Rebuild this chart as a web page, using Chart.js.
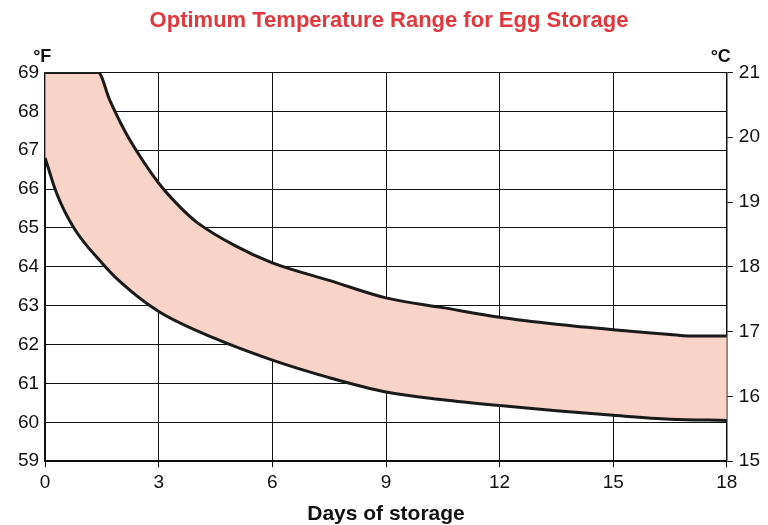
<!DOCTYPE html>
<html lang="en">
<head>
<meta charset="UTF-8">
<title>Egg Storage</title>
<script src="https://cdn.jsdelivr.net/npm/chart.js"></script>
<style>
  body, html { margin: 0; padding: 0; background: #fff; }
  #wrap { width: 768px; height: 525px; }
</style>
</head>
<body>
<div id="wrap"><canvas id="c"></canvas></div>
<script>
// days of storage vs temperature (°F)
const upperDays = [0, 1.4, 1.7, 2.1, 2.5, 3, 3.5, 4, 5, 6, 7.5, 9, 10.5, 12, 13.5, 15, 16.5, 17, 18];
const upperTemp = [69, 69, 68.3, 67.5, 66.85, 66.15, 65.6, 65.15, 64.55, 64.1, 63.65, 63.2, 62.95, 62.7, 62.52, 62.38, 62.26, 62.22, 62.22];
const lowerDays = [0, 0.3, 0.76, 1.5, 2, 3, 4.5, 6, 7.5, 9, 10.5, 12, 13.5, 15, 16.5, 18];
const lowerTemp = [66.8, 65.9, 65.0, 64.1, 63.6, 62.85, 62.15, 61.6, 61.15, 60.78, 60.58, 60.43, 60.3, 60.18, 60.08, 60.05];

const pts = (xs, ys) => xs.map((x, i) => ({ x: x, y: ys[i] }));
const family = '"Liberation Sans", Arial, sans-serif';
const font = { family: family, size: 19 };

const extraLabels = {
  id: 'extraLabels',
  afterDraw(chart) {
    const { ctx, chartArea } = chart;
    ctx.save();
    ctx.fillStyle = '#111';
    ctx.font = 'bold 18px ' + family;
    ctx.textBaseline = 'bottom';
    ctx.textAlign = 'left';
    ctx.fillText('°F', chartArea.left - 12, chartArea.top - 6);
    ctx.textAlign = 'right';
    ctx.fillText('°C', chartArea.right + 4, chartArea.top - 6);
    ctx.font = 'bold 21px ' + family;
    ctx.textAlign = 'center';
    ctx.textBaseline = 'middle';
    ctx.fillText('Days of storage', (chartArea.left + chartArea.right) / 2, 514);
    ctx.restore();
  }
};

new Chart(document.getElementById('c'), {
  type: 'line',
  data: {
    datasets: [
      { data: pts(upperDays, upperTemp), borderColor: '#1a1a1a', borderWidth: 3, order: 2,
        backgroundColor: '#f7d3c8', fill: '+1', pointRadius: 0, cubicInterpolationMode: 'monotone' },
      { data: pts(lowerDays, lowerTemp), borderColor: '#1a1a1a', borderWidth: 3, order: 1,
        fill: false, pointRadius: 0, cubicInterpolationMode: 'monotone' }
    ]
  },
  options: {
    responsive: true,
    maintainAspectRatio: false,
    animation: false,
    layout: { padding: { top: 8, left: 12, right: 2, bottom: 27 } },
    plugins: {
      legend: { display: false },
      tooltip: { enabled: false },
      title: {
        display: true,
        text: 'Optimum Temperature Range for Egg Storage',
        color: '#e0383e',
        font: { family: family, size: 22, weight: 'bold' },
        padding: { top: 0, bottom: 38 }
      }
    },
    scales: {
      x: {
        type: 'linear', min: 0, max: 18,
        ticks: { stepSize: 3, color: '#111', font: font, padding: 4 },
        grid: { color: '#111', lineWidth: 1, tickLength: 6 },
        border: { color: '#111', width: 1.5 }
      },
      y: {
        min: 59, max: 69,
        ticks: { stepSize: 1, color: '#111', font: font, padding: 6 },
        grid: { color: '#111', lineWidth: 1, tickLength: 0 },
        border: { color: '#111', width: 1.5 }
      },
      y2: {
        position: 'right', min: 15, max: 21,
        ticks: { stepSize: 1, color: '#111', font: font, padding: 6 },
        grid: { drawOnChartArea: false, color: '#111', tickLength: 6 },
        border: { color: '#111', width: 1.5 }
      }
    }
  },
  plugins: [extraLabels]
});
</script>
</body>
</html>
